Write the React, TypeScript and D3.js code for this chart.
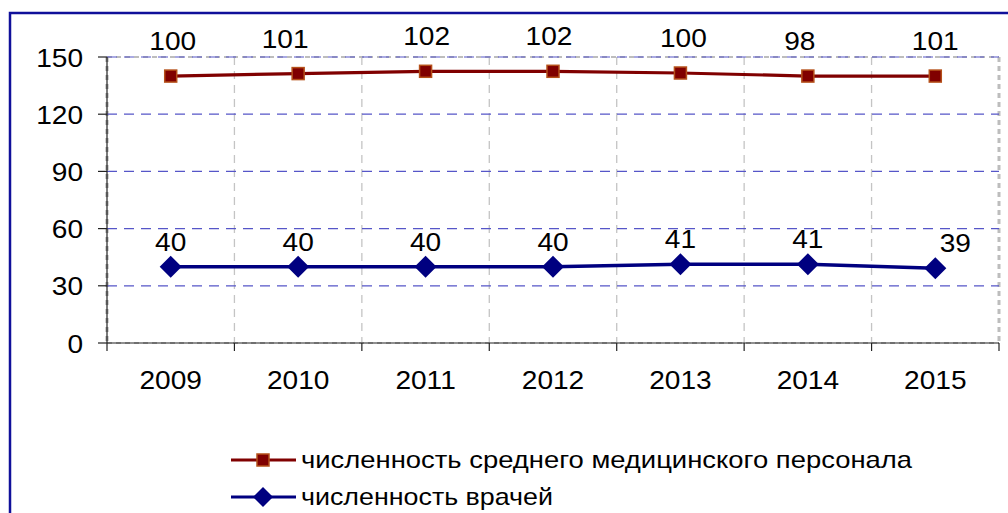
import React from "react";
import * as d3 from "d3";

const years = ["2009", "2010", "2011", "2012", "2013", "2014", "2015"];
const nurseValues = [140, 141.3, 142.5, 142.5, 141.6, 140, 140];
const nurseLabels = ["100", "101", "102", "102", "100", "98", "101"];
const doctorValues = [40, 40, 40, 40, 41.3, 41.3, 39.2];
const doctorLabels = ["40", "40", "40", "40", "41", "41", "39"];
const yTicks = [0, 30, 60, 90, 120, 150];
const seriesNames = [
  "численность среднего медицинского персонала",
  "численность врачей",
];

// label nudges (layout, relative to computed point positions)
const nurseLabelDx = [2, -13, 1, -4, 3, -8, 0];
const doctorLabelDx = [0, 0, 0, 0, 0, 0, 20];

const W = 1008;
const H = 513;
const PL = 107, PR = 999, PT = 57, PB = 343;
const FONT = "'Liberation Sans', Arial, sans-serif";
const RED = "#800000";
const NAVY = "#000080";
const SX = 1.08;

function T({ x, y, anchor, children }: { x: number; y: number; anchor: string; children: React.ReactNode }) {
  return (
    <text transform={`translate(${x},${y}) scale(${SX},1)`} textAnchor={anchor} fontSize={26} fill="#000">
      {children}
    </text>
  );
}

export default function App() {
  const x = d3.scaleBand<string>().domain(years).range([PL, PR]).padding(0);
  const y = d3.scaleLinear().domain([0, 150]).range([PB, PT]);
  const cx = (yr: string) => (x(yr) as number) + x.bandwidth() / 2;

  const line = d3
    .line<number>()
    .x((_, i) => cx(years[i]))
    .y((v) => y(v));

  const boundaries = d3.range(years.length + 1).map((i) => PL + i * x.bandwidth());

  const diamond = (s: number) => `M0,${-s / 2}L${s / 2},0L0,${s / 2}L${-s / 2},0Z`;

  return (
    <svg
      width={W}
      height={H}
      style={{ position: "absolute", left: 0, top: 0, background: "#fff" }}
      fontFamily={FONT}
    >
      <rect x={0} y={0} width={W} height={H} fill="#fff" />
      {/* outer border */}
      <rect x={10} y={13} width={W + 20} height={H + 20} fill="none" stroke="#10109a" strokeWidth={2.5} />

      {/* vertical gridlines */}
      {boundaries.slice(1, -1).map((bx, i) => (
        <line key={"vg" + i} x1={bx} x2={bx} y1={PT} y2={PB} stroke="#c4c4c4" strokeWidth={1.3} strokeDasharray="8,6" />
      ))}
      {/* plot border */}
      <line x1={PL} x2={PR} y1={PT} y2={PT} stroke="#bdbdbd" strokeWidth={2} strokeDasharray="5,4" />
      <line x1={PL} x2={PR} y1={PB} y2={PB} stroke="#bdbdbd" strokeWidth={2} strokeDasharray="5,4" />
      <line x1={PL} x2={PL} y1={PT} y2={PB} stroke="#a8a8a8" strokeWidth={3} strokeDasharray="5,4" />
      <line x1={PR} x2={PR} y1={PT} y2={PB} stroke="#bdbdbd" strokeWidth={3} strokeDasharray="5,4" />

      {/* horizontal gridlines */}
      {yTicks.filter((t) => t > 0).map((t) => (
        <line key={"hg" + t} x1={PL} x2={PR} y1={y(t)} y2={y(t)} stroke="#5656c8" strokeWidth={1.2} strokeDasharray="10,7" />
      ))}

      {/* axes */}
      <line x1={PL} x2={PL} y1={PT} y2={PB} stroke="#222" strokeWidth={1.2} />
      <line x1={PL} x2={PR} y1={PB} y2={PB} stroke="#222" strokeWidth={1.2} />
      {yTicks.map((t) => (
        <g key={"yt" + t}>
          <line x1={PL - 9} x2={PL} y1={y(t)} y2={y(t)} stroke="#222" strokeWidth={1.2} />
          <T x={83} y={y(t) + 9.5} anchor="end">{t}</T>
        </g>
      ))}
      {boundaries.map((bx, i) => (
        <line key={"xt" + i} x1={bx} x2={bx} y1={PB} y2={PB + 8} stroke="#222" strokeWidth={1.2} />
      ))}
      {years.map((yr) => (
        <T key={"xl" + yr} x={cx(yr)} y={389} anchor="middle">{yr}</T>
      ))}

      {/* nurses series */}
      <path d={line(nurseValues) || ""} fill="none" stroke={RED} strokeWidth={3.2} />
      {nurseValues.map((v, i) => (
        <rect key={"nm" + i} x={cx(years[i]) - 6} y={y(v) - 6} width={12} height={12} fill={RED} stroke="#b5501a" strokeWidth={1.5} />
      ))}
      {nurseValues.map((v, i) => (
        <T key={"nl" + i} x={cx(years[i]) + nurseLabelDx[i]} y={y(v) - 26} anchor="middle">{nurseLabels[i]}</T>
      ))}

      {/* doctors series */}
      <path d={line(doctorValues) || ""} fill="none" stroke={NAVY} strokeWidth={3.5} />
      {doctorValues.map((v, i) => (
        <path key={"dm" + i} d={diamond(22)} transform={`translate(${cx(years[i])},${y(v)})`} fill={NAVY} />
      ))}
      {doctorValues.map((v, i) => (
        <T key={"dl" + i} x={cx(years[i]) + doctorLabelDx[i]} y={y(v) - 16} anchor="middle">{doctorLabels[i]}</T>
      ))}

      {/* legend */}
      <g>
        <line x1={231} x2={296} y1={460} y2={460} stroke={RED} strokeWidth={3.2} />
        <rect x={257} y={454} width={12} height={12} fill={RED} stroke="#b5501a" strokeWidth={1.5} />
        <text x={301} y={468} fontSize={24} fill="#000" textLength={611} lengthAdjust="spacingAndGlyphs">
          {seriesNames[0]}
        </text>
        <line x1={231} x2={296} y1={497} y2={497} stroke={NAVY} strokeWidth={3.2} />
        <path d={diamond(20)} transform="translate(263,497)" fill={NAVY} />
        <text x={301} y={505} fontSize={24} fill="#000" textLength={252} lengthAdjust="spacingAndGlyphs">
          {seriesNames[1]}
        </text>
      </g>
    </svg>
  );
}
